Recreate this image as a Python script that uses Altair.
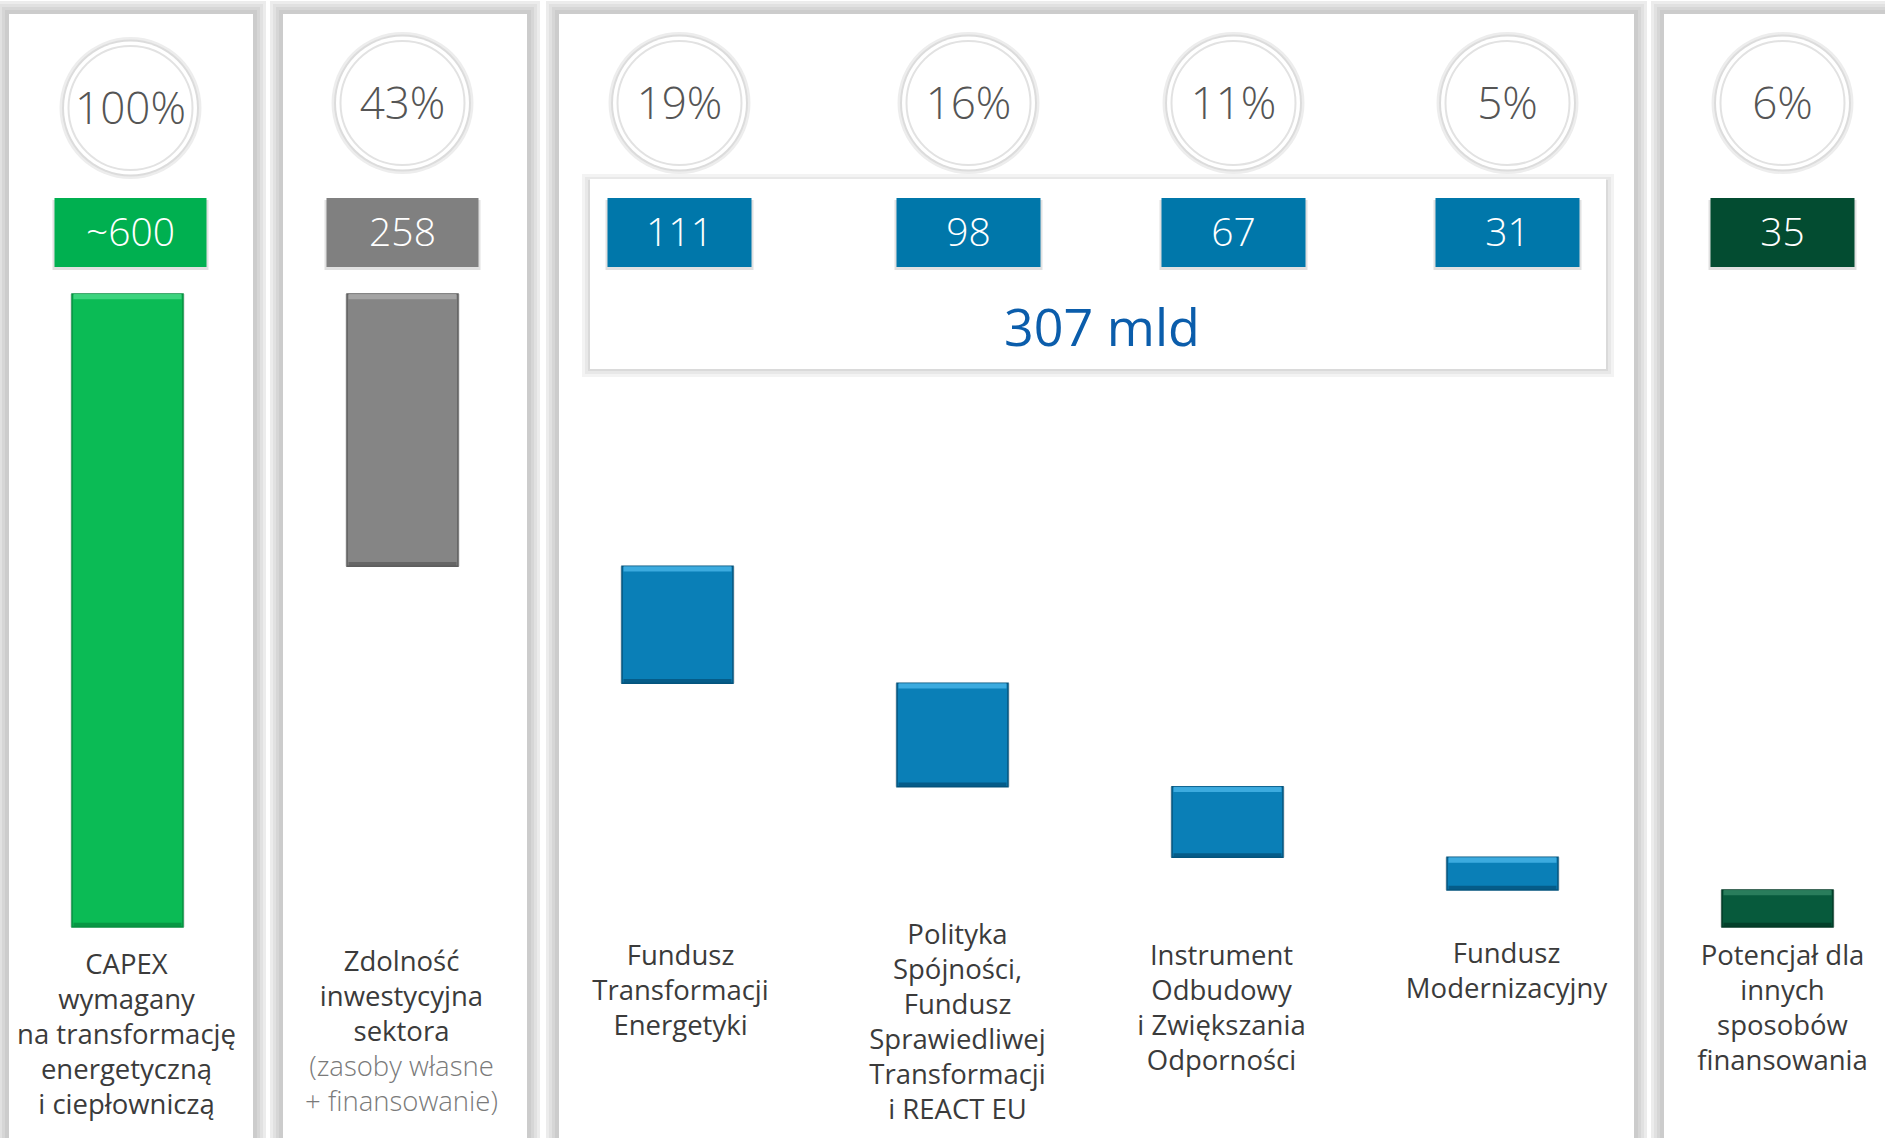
import altair as alt
import pandas as pd

# ---------------- data ----------------
categories = ["CAPEX", "Zdolność", "FTE", "Polityka", "Instrument", "Modernizacyjny", "Potencjał"]
percent_labels = ["100%", "43%", "19%", "16%", "11%", "5%", "6%"]
value_labels = ["~600", "258", "111", "98", "67", "31", "35"]
values = [600, 258, 111, 98, 67, 31, 35]
kinds = ["total", "step", "step", "step", "step", "step", "step"]
labels = [
    "CAPEX\nwymagany\nna transformację\nenergetyczną\ni ciepłowniczą",
    "Zdolność\ninwestycyjna\nsektora",
    "Fundusz\nTransformacji\nEnergetyki",
    "Polityka\nSpójności,\nFundusz\nSprawiedliwej\nTransformacji\ni REACT EU",
    "Instrument\nOdbudowy\ni Zwiększania\nOdporności",
    "Fundusz\nModernizacyjny",
    "Potencjał dla\ninnych\nsposobów\nfinansowania",
]
sublabels = ["", "(zasoby własne\n+ finansowanie)", "", "", "", "", ""]
total_label = "307 mld"

# ---------------- styles / layout ----------------
bar_colors = ["#0BBB55", "#858585", "#0A7FB7", "#0A7FB7", "#0A7FB7", "#0A7FB7", "#075A3C"]
hi_colors = ["#45D886", "#A9A9A9", "#45B3E6", "#45B3E6", "#45B3E6", "#45B3E6", "#2F8462"]
lo_colors = ["#078F40", "#5E5E5E", "#04547D", "#04547D", "#04547D", "#04547D", "#033A26"]
box_colors = ["#00B050", "#808080", "#0077AA", "#0077AA", "#0077AA", "#0077AA", "#034C31"]
box_widths = [152, 152, 144, 144, 144, 144, 144]
top_offsets = [3, 0, 2, 16, 6, 5, 5]
label_offsets = [-1, -1, 3, 5, -6, 4, 5]
label_top = [952, 949, 943, 922, 943, 941, 943]
FONT = "Open Sans"

X_RANGE = [-10, 1915]
HALF_BAND = (X_RANGE[1] - X_RANGE[0]) / len(categories) / 2

# waterfall start/end computed from the values
starts, ends = [], []
cum = 0
for v, k in zip(values, kinds):
    if k == "total":
        starts.append(0)
        ends.append(v)
    else:
        starts.append(cum)
        ends.append(cum + v)
        cum += v

df = pd.DataFrame({
    "idx": list(range(len(categories))),
    "cat": categories,
    "pct": percent_labels,
    "val": value_labels,
    "start": starts,
    "end": ends,
    "label": labels,
    "sub": sublabels,
    "bar_color": bar_colors,
    "hi_color": hi_colors,
    "lo_color": lo_colors,
    "box_color": box_colors,
    "bw": box_widths,
    "toff": [o + HALF_BAND for o in top_offsets],
    "loff": [o + HALF_BAND for o in label_offsets],
})

W, H = 1885, 1138
one = pd.DataFrame({"k": [0]})

xscale = alt.Scale(domain=categories, range=X_RANGE, paddingInner=0, paddingOuter=0)
X = alt.X("cat:N", scale=xscale, axis=None, sort=categories)
offscale = alt.Scale(domain=[0, 300], range=[0, 300])
XT = alt.XOffset("toff:Q", scale=offscale)
XL = alt.XOffset("loff:Q", scale=offscale)
yscale = alt.Scale(domain=[0, 600], range=[294, 927], nice=False, zero=False)

base = alt.Chart(df)


def rect(x1, x2, y1, y2, color, opacity=1.0):
    return alt.Chart(one).mark_rect(color=color, opacity=opacity).encode(
        x=alt.value(x1), x2=alt.value(x2), y=alt.value(y1), y2=alt.value(y2)
    )


layers = []

# panels with soft shadows
panels = [(9, 253), (283, 527), (559, 1634), (1664, 1905)]
for (x1, x2) in panels:
    for e, c in [(13, "#ececec"), (10, "#e1e1e1"), (7, "#d6d6d6"), (4, "#cccccc")]:
        layers.append(rect(x1 - e, x2 + e, 14 - e, H + 20, c))
for (x1, x2) in panels:
    layers.append(rect(x1, x2, 14, H + 20, "#ffffff"))

# inner box for the EU funds
ib = (590, 1606, 179, 369)
for e, c in [(8, "#f3f3f3"), (5, "#e8e8e8"), (2, "#dadada")]:
    layers.append(rect(ib[0] - e, ib[1] + e, ib[2] - e + 3, ib[3] + e, c))
layers.append(rect(ib[0], ib[1], ib[2], ib[3], "#ffffff"))

# circles with percentages
for flt, cy in [("datum.idx == 0", 108), ("datum.idx > 0", 103)]:
    b = base.transform_filter(flt)
    for d, fill in [(142, "#ededed"), (137, "#dcdcdc"), (133, "#ffffff")]:
        layers.append(b.mark_point(shape="circle", filled=True, size=d * d, color=fill, opacity=1).encode(
            x=X, xOffset=XT, y=alt.value(cy)))
    layers.append(b.mark_point(shape="circle", filled=True, size=124 * 124, fill="#ffffff",
                               stroke="#e2e2e2", strokeWidth=2, opacity=1).encode(
        x=X, xOffset=XT, y=alt.value(cy)))
    layers.append(b.mark_text(font=FONT, fontSize=44, fontWeight=300, color="#555555",
                              baseline="middle", align="center").encode(
        x=X, xOffset=XT, y=alt.value(cy + 3), text="pct:N"))

# value boxes
layers.append(base.transform_calculate(bw2="datum.bw + 4").mark_bar(color="#d4d4d4", opacity=0.7).encode(
    x=X, xOffset=XT, y=alt.value(200), y2=alt.value(270), size=alt.Size("bw2:Q", scale=None)))
layers.append(base.mark_bar().encode(
    x=X, xOffset=XT, y=alt.value(198), y2=alt.value(267),
    size=alt.Size("bw:Q", scale=None),
    color=alt.Color("box_color:N", scale=None)))
layers.append(base.mark_text(font=FONT, fontSize=39, fontWeight=300, color="#ffffff",
                             baseline="middle", align="center").encode(
    x=X, xOffset=XT, y=alt.value(234), text="val:N"))

# total text
layers.append(alt.Chart(one).mark_text(text=total_label, font=FONT, fontSize=52, fontWeight=400,
                                       color="#0B5DAB", baseline="middle", align="center").encode(
    x=alt.value(1102), y=alt.value(330)))

# waterfall bars
Y = alt.Y("start:Q", scale=yscale, axis=None)
layers.append(base.mark_bar(size=115, color="#cfcfcf", opacity=0.5).encode(
    x=X, y=Y, y2="end:Q"))
layers.append(base.mark_bar(size=111, strokeWidth=1.5).encode(
    x=X, y=Y, y2="end:Q",
    color=alt.Color("bar_color:N", scale=None),
    stroke=alt.Stroke("lo_color:N", scale=None)))
layers.append(base.transform_calculate(hi_end="datum.start + 5").mark_bar(size=108, opacity=0.85).encode(
    x=X, y=Y, y2="hi_end:Q",
    color=alt.Color("hi_color:N", scale=None)))
layers.append(base.transform_calculate(lo_start="datum.end - 4").mark_bar(size=108, opacity=0.8).encode(
    x=X, y=alt.Y("lo_start:Q", scale=yscale, axis=None), y2="end:Q",
    color=alt.Color("lo_color:N", scale=None)))

# labels below
for i, top in enumerate(label_top):
    layers.append(base.transform_filter(f"datum.idx == {i}").mark_text(
        font=FONT, fontSize=27.5, fontWeight=400, color="#3b3b3b", baseline="top", align="center",
        lineBreak="\n", lineHeight=35).encode(
        x=X, xOffset=XL, y=alt.value(top), text="label:N"))
layers.append(base.transform_filter("datum.idx == 1").mark_text(
    font=FONT, fontSize=27.5, fontWeight=300, color="#7a7a7a", baseline="top", align="center",
    lineBreak="\n", lineHeight=35).encode(
    x=X, xOffset=XL, y=alt.value(label_top[1] + 3 * 35), text="sub:N"))

chart = alt.layer(*layers).properties(
    width=W, height=H, padding=0, autosize="none", background="#ffffff"
).configure_view(stroke=None)

chart.save("out.html", embed_options={"renderer": "svg", "actions": False})
